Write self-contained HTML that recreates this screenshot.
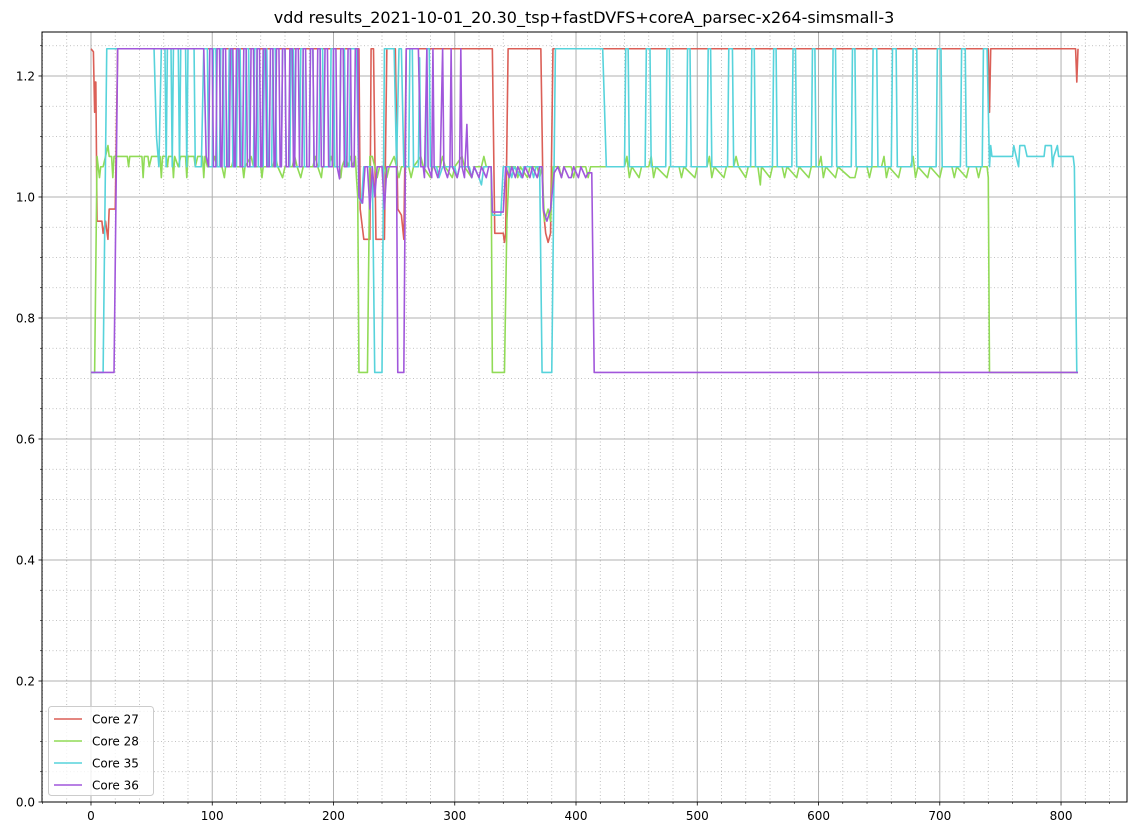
<!DOCTYPE html>
<html><head><meta charset="utf-8">
<style>
body{margin:0;background:#fff;}
svg{display:block;font-family:"DejaVu Sans","Liberation Sans",sans-serif;}
</style></head>
<body>
<svg id="chart" width="1140" height="836" viewBox="0 0 1140 836" xmlns="http://www.w3.org/2000/svg">
<rect width="1140" height="836" fill="#fff"/>
<text x="584" y="23" text-anchor="middle" font-size="16" fill="#000">vdd results_2021-10-01_20.30_tsp+fastDVFS+coreA_parsec-x264-simsmall-3</text>
<g id="grid"></g>
<g id="series"></g>
<rect x="42" y="32" width="1085" height="770" fill="none" stroke="#000" stroke-width="1"/>
<g id="axes"></g>
<g id="legend"></g>
</svg>
<script>
const xTicks=[0,100,200,300,400,500,600,700,800];
const yTicks=[0.0,0.2,0.4,0.6,0.8,1.0,1.2];
const yTickLabels=["0.0","0.2","0.4","0.6","0.8","1.0","1.2"];
const seriesNames=["Core 27","Core 28","Core 35","Core 36"];
const seriesColors=["#db5f57","#91db57","#57d3db","#a157db"];

const core27=[[0,1.245],[2,1.24],[3,1.14],[3.5,1.19],[4,1.19],[5,0.96],[9,0.96],[10,0.94],[12,0.96],[14,0.93],[15,0.98],[20,0.98],[22,1.245],[221,1.245],[222,0.98],[225,0.93],[230,0.93],[231,1.245],[233,1.245],[235,0.93],[242,0.93],[244,1.245],[251,1.245],[253,0.98],[256,0.97],[258,0.93],[260,1.245],[331,1.245],[333,0.94],[340,0.94],[341,0.925],[342,0.94],[344,1.245],[371,1.245],[373,0.98],[375,0.94],[377,0.925],[379,0.94],[381,1.245],[740,1.245],[741,1.14],[742,1.245],[812,1.245],[813,1.19],[814,1.245]];

const core28=[[0,0.71],[3,0.71],[5,1.067],[7,1.032],[8,1.05],[10,1.05],[12,1.067],[14,1.085],[15,1.067],[17,1.067],[18,1.032],[19,1.067],[30,1.067],[31,1.05],[32,1.067],[42,1.067],[43,1.032],[44,1.067],[47,1.067],[48,1.05],[50,1.067],[57,1.067],[58,1.032],[59,1.067],[62,1.067],[63,1.05],[64,1.067],[67,1.067],[68,1.032],[69,1.067],[72,1.05],[74,1.067],[78,1.067],[79,1.032],[80,1.067],[85,1.067],[86,1.05],[88,1.067],[92,1.067],[93,1.032],[94,1.067],[96,1.05],[100,1.05],[102,1.067],[104,1.05],[108,1.05],[110,1.032],[111,1.05],[116,1.05],[118,1.067],[120,1.05],[125,1.05],[126,1.032],[127,1.05],[132,1.067],[134,1.05],[140,1.05],[141,1.032],[142,1.05],[150,1.05],[152,1.067],[154,1.05],[158,1.032],[160,1.05],[166,1.05],[168,1.067],[170,1.05],[173,1.032],[175,1.05],[183,1.05],[185,1.067],[187,1.05],[190,1.032],[191,1.05],[196,1.05],[198,1.067],[200,1.05],[205,1.05],[206,1.032],[207,1.05],[210,1.067],[212,1.05],[214,1.067],[216,1.05],[218,1.067],[219,1.03],[220,1.0],[221,0.71],[228,0.71],[230,1.067],[232,1.067],[234,1.05],[236,1.032],[238,1.05],[242,1.05],[244,1.032],[246,1.05],[250,1.067],[252,1.05],[254,1.032],[256,1.05],[262,1.05],[264,1.032],[266,1.05],[272,1.067],[274,1.05],[280,1.032],[282,1.05],[288,1.05],[290,1.067],[292,1.05],[298,1.032],[300,1.05],[306,1.067],[308,1.05],[314,1.032],[316,1.05],[322,1.05],[324,1.067],[326,1.05],[330,1.05],[331,0.71],[341,0.71],[343,0.96],[345,1.05],[350,1.05],[352,1.032],[354,1.05],[360,1.032],[362,1.05],[368,1.05],[370,1.032],[372,1.05],[374,0.96],[377,0.98],[379,0.96],[381,1.05],[386,1.05],[388,1.032],[390,1.05],[396,1.05],[398,1.032],[400,1.05],[408,1.05],[410,1.032],[412,1.05],[440,1.05],[442,1.067],[444,1.032],[446,1.05],[452,1.032],[454,1.05],[460,1.05],[462,1.067],[464,1.032],[466,1.05],[475,1.032],[477,1.05],[485,1.05],[487,1.032],[489,1.05],[498,1.032],[500,1.05],[508,1.05],[510,1.067],[512,1.032],[514,1.05],[522,1.032],[524,1.05],[530,1.05],[532,1.067],[534,1.05],[540,1.032],[542,1.05],[550,1.05],[552,1.02],[553,1.05],[560,1.032],[562,1.05],[570,1.05],[572,1.032],[574,1.05],[582,1.032],[584,1.05],[592,1.032],[594,1.05],[600,1.05],[602,1.067],[604,1.032],[606,1.05],[614,1.032],[616,1.05],[626,1.032],[630,1.032],[632,1.05],[640,1.05],[642,1.032],[644,1.05],[652,1.05],[654,1.067],[656,1.032],[658,1.05],[666,1.032],[668,1.05],[676,1.05],[678,1.067],[680,1.032],[682,1.05],[690,1.032],[692,1.05],[700,1.032],[702,1.05],[710,1.05],[712,1.032],[714,1.05],[722,1.032],[724,1.05],[730,1.05],[732,1.032],[734,1.05],[739,1.05],[740,1.032],[741,0.71],[814,0.71]];

const core35=[[0,0.71],[10,0.71],[13,1.245],[52,1.245],[54,1.1],[56,1.05],[58,1.245],[61,1.245],[62,1.05],[63,1.245],[66,1.245],[67,1.05],[68,1.245],[72,1.245],[73,1.05],[74,1.245],[78,1.245],[79,1.05],[80,1.245],[85,1.245],[86,1.05],[91,1.05],[93,1.245],[96,1.245],[97,1.05],[100,1.05],[101,1.245],[103,1.245],[104,1.05],[106,1.05],[107,1.245],[109,1.245],[110,1.05],[113,1.05],[114,1.245],[116,1.245],[117,1.05],[120,1.05],[121,1.245],[123,1.245],[124,1.05],[127,1.05],[128,1.245],[130,1.245],[131,1.05],[134,1.05],[135,1.245],[137,1.245],[138,1.05],[142,1.05],[143,1.245],[145,1.245],[146,1.05],[149,1.05],[150,1.245],[152,1.245],[153,1.05],[157,1.05],[158,1.245],[160,1.245],[161,1.05],[164,1.05],[165,1.245],[167,1.245],[168,1.05],[172,1.05],[173,1.245],[175,1.245],[176,1.05],[180,1.05],[181,1.245],[183,1.245],[184,1.05],[188,1.05],[189,1.245],[191,1.245],[192,1.05],[197,1.05],[198,1.245],[200,1.245],[201,1.05],[205,1.05],[206,1.245],[209,1.245],[210,1.05],[213,1.05],[214,1.245],[219,1.245],[221,1.0],[223,0.99],[225,1.05],[232,1.05],[234,0.71],[240,0.71],[242,1.245],[250,1.245],[252,1.05],[254,1.245],[256,1.245],[258,1.05],[262,1.05],[263,1.245],[265,1.245],[266,1.05],[270,1.05],[271,1.23],[272,1.05],[276,1.05],[277,1.245],[279,1.245],[280,1.05],[285,1.05],[287,1.032],[290,1.05],[300,1.05],[302,1.032],[304,1.05],[312,1.05],[314,1.032],[316,1.05],[320,1.032],[322,1.02],[324,1.05],[330,1.05],[331,0.97],[338,0.97],[340,1.05],[345,1.05],[347,1.032],[349,1.05],[355,1.032],[357,1.05],[363,1.05],[365,1.032],[367,1.05],[370,1.05],[372,0.71],[380,0.71],[383,1.245],[422,1.245],[425,1.05],[440,1.05],[441,1.245],[443,1.245],[444,1.05],[457,1.05],[458,1.245],[461,1.245],[462,1.05],[474,1.05],[475,1.245],[477,1.245],[478,1.05],[491,1.05],[492,1.245],[494,1.245],[495,1.05],[508,1.05],[509,1.245],[511,1.245],[512,1.05],[525,1.05],[526,1.245],[529,1.245],[530,1.05],[544,1.05],[545,1.245],[547,1.245],[548,1.05],[562,1.05],[563,1.245],[565,1.245],[566,1.05],[578,1.05],[579,1.245],[581,1.245],[582,1.05],[594,1.05],[595,1.245],[597,1.245],[598,1.05],[611,1.05],[612,1.245],[614,1.245],[615,1.05],[627,1.05],[628,1.245],[630,1.245],[631,1.05],[644,1.05],[645,1.245],[648,1.245],[649,1.05],[660,1.05],[661,1.245],[664,1.245],[665,1.05],[677,1.05],[678,1.245],[681,1.245],[682,1.05],[697,1.05],[698,1.245],[701,1.245],[702,1.05],[717,1.05],[718,1.245],[721,1.245],[722,1.05],[735,1.05],[736,1.245],[739,1.245],[741,1.05],[742,1.085],[743,1.067],[760,1.067],[761,1.085],[763,1.067],[765,1.05],[766,1.085],[770,1.085],[772,1.067],[786,1.067],[787,1.085],[792,1.085],[793,1.05],[794,1.067],[797,1.085],[798,1.067],[810,1.067],[811,1.05],[813,0.71],[814,0.71]];

const core36=[[0,0.71],[19,0.71],[22,1.245],[93,1.245],[95,1.067],[97,1.05],[98,1.245],[100,1.245],[101,1.05],[103,1.05],[104,1.245],[106,1.245],[107,1.05],[108,1.05],[109,1.245],[111,1.245],[112,1.05],[114,1.05],[115,1.245],[117,1.245],[118,1.05],[119,1.05],[120,1.245],[122,1.245],[123,1.05],[125,1.05],[126,1.245],[128,1.245],[129,1.05],[131,1.05],[132,1.245],[134,1.245],[135,1.05],[136,1.05],[137,1.245],[139,1.245],[140,1.05],[141,1.05],[142,1.245],[144,1.245],[145,1.05],[147,1.05],[148,1.245],[150,1.245],[151,1.05],[152,1.05],[153,1.245],[155,1.245],[156,1.05],[157,1.05],[158,1.245],[160,1.245],[161,1.05],[163,1.05],[164,1.245],[166,1.245],[167,1.05],[168,1.05],[169,1.245],[171,1.245],[172,1.05],[174,1.05],[175,1.245],[177,1.245],[178,1.05],[180,1.05],[181,1.245],[183,1.245],[184,1.05],[186,1.05],[187,1.245],[189,1.245],[190,1.05],[192,1.05],[193,1.245],[195,1.245],[196,1.05],[199,1.05],[200,1.245],[202,1.245],[203,1.05],[205,1.03],[206,1.245],[208,1.245],[209,1.05],[211,1.05],[212,1.245],[214,1.245],[215,1.05],[217,1.05],[218,1.245],[220,1.245],[221,1.0],[224,0.99],[226,1.05],[228,1.05],[230,0.98],[232,1.05],[234,1.0],[236,1.05],[240,1.05],[242,0.98],[244,1.05],[252,1.05],[253,0.71],[258,0.71],[260,1.245],[270,1.245],[272,1.05],[274,1.05],[275,1.032],[277,1.245],[278,1.05],[281,1.032],[282,1.245],[283,1.05],[286,1.032],[288,1.05],[290,1.245],[291,1.05],[294,1.032],[296,1.05],[297,1.245],[298,1.05],[302,1.032],[304,1.05],[305,1.245],[306,1.05],[308,1.032],[310,1.12],[311,1.05],[314,1.032],[316,1.05],[320,1.032],[322,1.05],[326,1.032],[328,1.05],[330,1.05],[331,0.975],[340,0.975],[342,1.05],[345,1.032],[347,1.05],[350,1.032],[352,1.05],[356,1.032],[358,1.05],[362,1.032],[364,1.05],[368,1.032],[370,1.05],[372,1.05],[373,0.98],[376,0.96],[379,0.98],[382,1.04],[385,1.05],[388,1.032],[390,1.05],[394,1.032],[396,1.032],[398,1.05],[402,1.032],[404,1.05],[408,1.032],[410,1.04],[413,1.04],[415,0.71],[814,0.71]];

const allSeries=[core27,core28,core35,core36];
const seriesKeys=["core-27","core-28","core-35","core-36"];

const NS="http://www.w3.org/2000/svg";
const X0=42,X1=1127,Y0=32,Y1=802;
const xMin=-40.4,xMax=854.4,yMin=0,yMax=1.2727;
function sx(v){return X0+(v-xMin)/(xMax-xMin)*(X1-X0);}
function sy(v){return Y1-(v-yMin)/(yMax-yMin)*(Y1-Y0);}
function mk(tag,attrs,parent){const e=document.createElementNS(NS,tag);for(const k in attrs)e.setAttribute(k,attrs[k]);parent.appendChild(e);return e;}

const grid=document.getElementById('grid');
const axes=document.getElementById('axes');
// minor grid
for(let v=-40;v<=850;v+=20){if(v%100===0)continue;const l=mk('line',{x1:sx(v),x2:sx(v),y1:Y0,y2:Y1,stroke:'#b0b0b0','stroke-width':0.8,'stroke-dasharray':'1,2.5'},grid);


const t=mk('line',{x1:sx(v),x2:sx(v),y1:Y1,y2:Y1+2,stroke:'#000','stroke-width':0.6},axes);

}
for(let i=1;i<26;i++){const v=i*0.05;if(i%4===0)continue;const l=mk('line',{x1:X0,x2:X1,y1:sy(v),y2:sy(v),stroke:'#b0b0b0','stroke-width':0.8,'stroke-dasharray':'1,2.5'},grid);


const t=mk('line',{x1:X0-2,x2:X0,y1:sy(v),y2:sy(v),stroke:'#000','stroke-width':0.6},axes);

}
xTicks.forEach(v=>{const l=mk('line',{x1:sx(v),x2:sx(v),y1:Y0,y2:Y1,stroke:'#b0b0b0','stroke-width':1},grid);


const t=mk('line',{x1:sx(v),x2:sx(v),y1:Y1,y2:Y1+3.5,stroke:'#000','stroke-width':0.8},axes);


const tx=mk('text',{x:sx(v),y:Y1+18,'text-anchor':'middle','font-size':12,fill:'#000'},axes);tx.textContent=String(v);

});
yTicks.forEach((v,i)=>{const l=mk('line',{x1:X0,x2:X1,y1:sy(v),y2:sy(v),stroke:'#b0b0b0','stroke-width':1},grid);


const t=mk('line',{x1:X0-3.5,x2:X0,y1:sy(v),y2:sy(v),stroke:'#000','stroke-width':0.8},axes);


const tx=mk('text',{x:X0-7,y:sy(v)+4.5,'text-anchor':'end','font-size':12,fill:'#000'},axes);tx.textContent=yTickLabels[i];

});

const sg=document.getElementById('series');
allSeries.forEach((s,i)=>{const d=s.map((p,j)=>(j?'L':'M')+sx(p[0]).toFixed(2)+','+sy(p[1]).toFixed(2)).join('');
const p=mk('path',{d:d,fill:'none',stroke:seriesColors[i],'stroke-width':1.6,'stroke-linejoin':'round'},sg);

});

const lg=document.getElementById('legend');
const box=mk('rect',{x:48.5,y:706.5,width:105,height:89,rx:3,fill:'#fff','fill-opacity':0.8,stroke:'#ccc'},lg);


seriesNames.forEach((n,i)=>{const y=719+i*22;
const l=mk('line',{x1:54,x2:82,y1:y,y2:y,stroke:seriesColors[i],'stroke-width':1.6},lg);


const t=mk('text',{x:92,y:y+4.5,'font-size':12,fill:'#000'},lg);t.textContent=n;

});
</script>
</body></html>
